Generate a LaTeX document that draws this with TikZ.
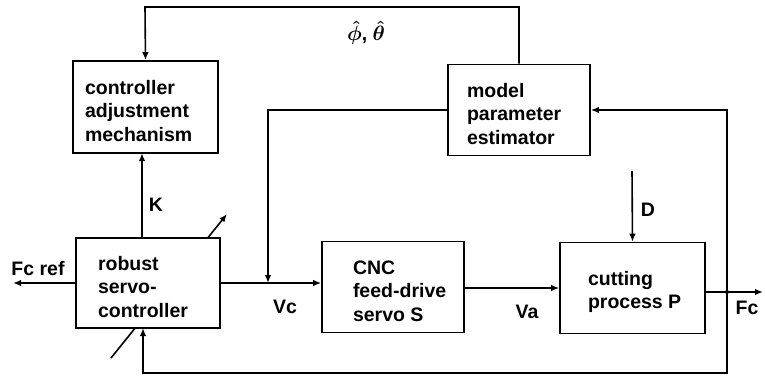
\documentclass[tikz,border=0pt]{standalone}
\usepackage{amsmath}
\usepackage{fontspec}
\setmainfont{Liberation Sans}
\usetikzlibrary{arrows.meta, positioning, calc}

\begin{document}
\begin{tikzpicture}[x=1pt, y=-1pt, line width=1.6pt,
  blockbox/.style={draw, fill=white, inner sep=0pt},
  blocktext/.style={align=left, inner sep=0pt, anchor=west, yshift=-4pt,
    font=\fontsize{19.5}{23.5}\selectfont\bfseries},
  sig/.style={-{Latex[length=8pt,width=6.5pt]}},
  lbl/.style={font=\fontsize{19.5}{23.5}\selectfont\bfseries}]

\useasboundingbox (0,0) rectangle (765,378);

% tuning arrow through the servo-controller (box hides the middle)
\coordinate (tunelo) at (111,358);
\coordinate (tunehi) at (227,214);
\draw[sig] (tunelo) -- (tunehi);

% --- Blocks ---
\node[blockbox, minimum width=145, minimum height=92,
  label={[blocktext, xshift=12pt]west:controller\\adjustment\\mechanism}]
  (adj) at (145.5,107) {};
\node[blockbox, minimum width=142, minimum height=91,
  label={[blocktext, xshift=19pt]west:model\\parameter\\estimator}]
  (est) at (519,110) {};
\node[blockbox, minimum width=144, minimum height=90,
  label={[blocktext, xshift=22pt]west:robust\\servo-\\controller}]
  (rob) at (148,283) {};
\node[blockbox, minimum width=142, minimum height=91,
  label={[blocktext, xshift=31pt]west:CNC\\feed-drive\\servo S}]
  (cnc) at (393,287) {};
\node[blockbox, minimum width=145, minimum height=91,
  label={[blocktext, xshift=28pt]west:cutting\\process P}]
  (cut) at (632.5,288) {};

% --- Helper points ---
\coordinate (topl) at (145,7);
\coordinate (topr) at (519,7);
\coordinate (kbot) at (142,238);
\coordinate (ktop) at (142,153);
\coordinate (vcj) at (268,283);
\coordinate (fj) at (727,292);
\coordinate (fcout) at (763,292);
\coordinate (botr) at (727,373);
\coordinate (botl) at (143,373);
\coordinate (fbin) at (143,328);
\coordinate (dtop) at (632,171);
\coordinate (fcref) at (13,283);

% --- Signals ---
% estimates back to the adjustment mechanism
\draw[sig] (est.north) -- (topr) -- (topl) -- (adj.north);
\node[lbl] (estlbl) at (366,33) {$\boldsymbol{\hat{\phi}}$, $\boldsymbol{\hat{\theta}}$};

% K
\draw[sig] (kbot) -- (ktop);
\node[lbl] (klbl) at (156,205) {K};

% Vc
\draw[sig] (rob.east) -- (rob.east -| cnc.west);
\draw[sig] (est.west) -| (vcj);
\node[lbl] (vclbl) at (285,307) {Vc};

% Va
\draw[sig] (cnc.east |- cut.west) -- (cut.west);
\node[lbl] (valbl) at (527,312) {Va};

% D
\draw[sig] (dtop) -- (cut.north);
\node[lbl] (dlbl) at (648,210) {D};

% Fc output and feedback
\draw[sig] (cut.east |- fj) -- (fcout);
\fill (fj) circle (2);
\node[lbl] (fclbl) at (747,308) {Fc};
\draw[sig] (fj) |- (est.east);
\draw[sig] (fj) -- (botr) -- (botl) -- (fbin);

% Fc ref
\draw[sig] (rob.west) -- (fcref);
\node[lbl] (fcreflbl) at (38,269) {Fc ref};

\end{tikzpicture}
\end{document}
